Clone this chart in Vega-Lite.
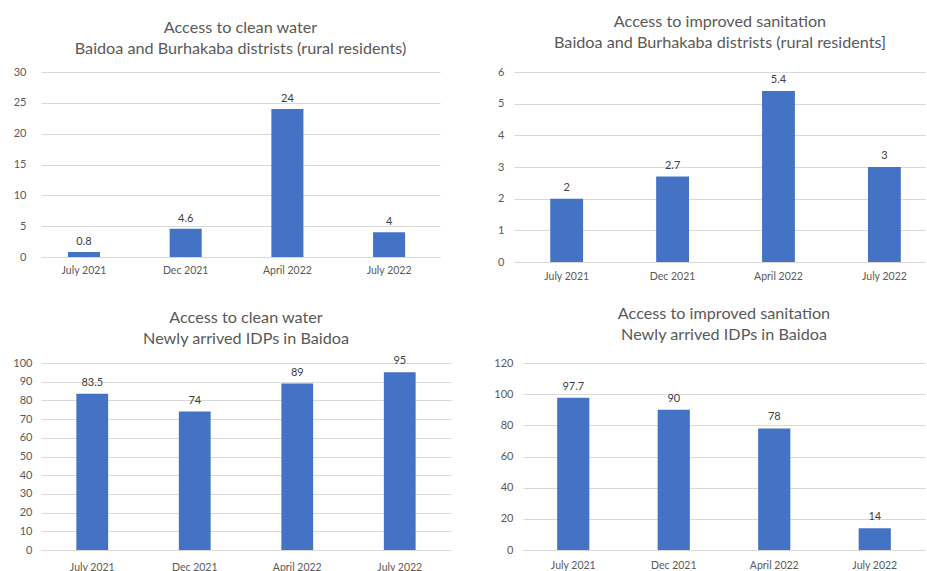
{
  "$schema": "https://vega.github.io/schema/vega-lite/v6.json",
  "padding": {"left": 12, "top": 13, "right": 0, "bottom": 0},
  "background": "white",
  "datasets": {
    "d": [
      {"panel": "A", "period": "July 2021", "value": 0.8},
      {"panel": "A", "period": "Dec 2021", "value": 4.6},
      {"panel": "A", "period": "April 2022", "value": 24},
      {"panel": "A", "period": "July 2022", "value": 4},
      {"panel": "B", "period": "July 2021", "value": 2},
      {"panel": "B", "period": "Dec 2021", "value": 2.7},
      {"panel": "B", "period": "April 2022", "value": 5.4},
      {"panel": "B", "period": "July 2022", "value": 3},
      {"panel": "C", "period": "July 2021", "value": 83.5},
      {"panel": "C", "period": "Dec 2021", "value": 74},
      {"panel": "C", "period": "April 2022", "value": 89},
      {"panel": "C", "period": "July 2022", "value": 95},
      {"panel": "D", "period": "July 2021", "value": 97.7},
      {"panel": "D", "period": "Dec 2021", "value": 90},
      {"panel": "D", "period": "April 2022", "value": 78},
      {"panel": "D", "period": "July 2022", "value": 14}
    ]
  },
  "data": {"name": "d"},
  "columns": 1,
  "align": "none",
  "spacing": 23,
  "concat": [
    {
      "bounds": "flush",
      "spacing": 74,
      "hconcat": [
        {
          "width": 399, "height": 185,
          "title": {"text": ["Access to clean water", "Baidoa and Burhakaba distrists (rural residents)"], "offset": 9},
          "transform": [{"filter": "datum.panel === 'A'"}],
          "encoding": {
            "x": {"field": "period", "type": "nominal", "sort": null, "scale": {"paddingInner": 0.685, "paddingOuter": 0.304, "align": 0.436}, "axis": {"labelPadding": 8}},
            "y": {"field": "value", "type": "quantitative", "scale": {"domain": [0, 30]}, "axis": {"values": [0, 5, 10, 15, 20, 25, 30], "labelPadding": 7, "offset": 8}}
          },
          "layer": [
            {"mark": {"type": "bar", "color": "#4472C4"}},
            {"mark": {"type": "text", "baseline": "bottom", "dy": -5, "font": "Lato", "fontSize": 11, "color": "#404040"}, "encoding": {"text": {"field": "value", "type": "quantitative"}}}
          ]
        },
        {
          "width": 412, "height": 190,
          "title": {"text": ["Access to improved sanitation", "Baidoa and Burhakaba distrists (rural residents]"], "offset": 15},
          "transform": [{"filter": "datum.panel === 'B'"}],
          "encoding": {
            "x": {"field": "period", "type": "nominal", "sort": null, "scale": {"paddingInner": 0.69, "paddingOuter": 0.29, "align": 0.59}, "axis": {"labelPadding": 9}},
            "y": {"field": "value", "type": "quantitative", "scale": {"domain": [0, 6]}, "axis": {"values": [0, 1, 2, 3, 4, 5, 6], "labelPadding": 10}}
          },
          "layer": [
            {"mark": {"type": "bar", "color": "#4472C4"}},
            {"mark": {"type": "text", "baseline": "bottom", "dy": -6, "font": "Lato", "fontSize": 11, "color": "#404040"}, "encoding": {"text": {"field": "value", "type": "quantitative"}}}
          ]
        }
      ]
    },
    {
      "bounds": "flush",
      "spacing": 72,
      "hconcat": [
        {
          "width": 410, "height": 187,
          "title": {"text": ["Access to clean water", "Newly arrived IDPs in Baidoa"], "offset": 8},
          "transform": [{"filter": "datum.panel === 'C'"}],
          "encoding": {
            "x": {"field": "period", "type": "nominal", "sort": null, "scale": {"paddingInner": 0.69, "paddingOuter": 0.345}, "axis": {"labelPadding": 12}},
            "y": {"field": "value", "type": "quantitative", "scale": {"domain": [0, 100]}, "axis": {"values": [0, 10, 20, 30, 40, 50, 60, 70, 80, 90, 100], "labelPadding": 9}}
          },
          "layer": [
            {"mark": {"type": "bar", "color": "#4472C4"}},
            {"mark": {"type": "text", "baseline": "bottom", "dy": -6, "font": "Lato", "fontSize": 11, "color": "#404040"}, "encoding": {"text": {"field": "value", "type": "quantitative"}}}
          ]
        },
        {
          "width": 402, "height": 187,
          "title": {"text": ["Access to improved sanitation", "Newly arrived IDPs in Baidoa"], "offset": 14},
          "transform": [{"filter": "datum.panel === 'D'"}],
          "encoding": {
            "x": {"field": "period", "type": "nominal", "sort": null, "scale": {"paddingInner": 0.68, "paddingOuter": 0.34}, "axis": {"labelPadding": 10}},
            "y": {"field": "value", "type": "quantitative", "scale": {"domain": [0, 120]}, "axis": {"values": [0, 20, 40, 60, 80, 100, 120], "labelPadding": 10}}
          },
          "layer": [
            {"mark": {"type": "bar", "color": "#4472C4"}},
            {"mark": {"type": "text", "baseline": "bottom", "dy": -6, "font": "Lato", "fontSize": 11, "color": "#404040"}, "encoding": {"text": {"field": "value", "type": "quantitative"}}}
          ]
        }
      ]
    }
  ],
  "config": {
    "view": {"stroke": null},
    "title": {"font": "Lato", "fontSize": 16.2, "fontWeight": "normal", "color": "#595959", "lineHeight": 21},
    "axis": {"labelFont": "Lato", "labelFontSize": 11, "labelColor": "#595959", "ticks": false, "title": null, "gridColor": "#d9d9d9", "domain": false},
    "axisX": {"grid": false, "domain": true, "domainColor": "#d9d9d9", "labelAngle": 0, "labelFontSize": 10.5},
    "axisY": {"grid": true}
  }
}
